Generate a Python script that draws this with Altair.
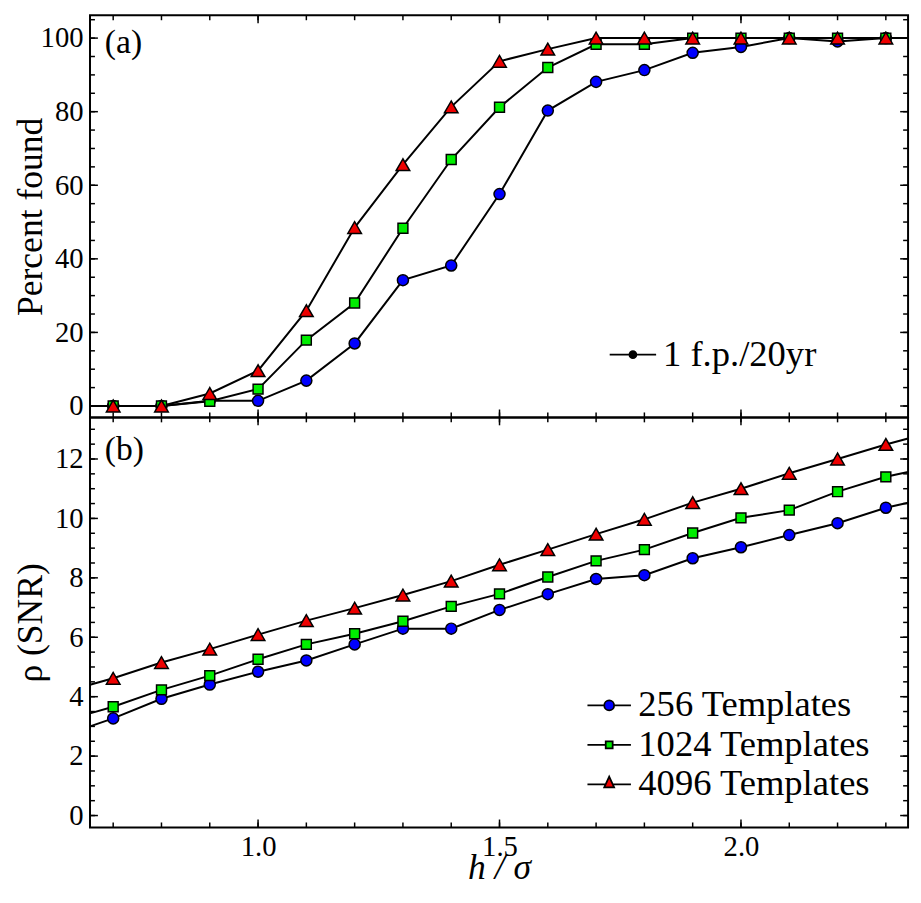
import altair as alt
import pandas as pd

FONT = "Liberation Serif"

# ---------------- data ----------------
h_sigma = [0.7, 0.8, 0.9, 1.0, 1.1, 1.2, 1.3, 1.4, 1.5, 1.6, 1.7, 1.8, 1.9, 2.0, 2.1, 2.2, 2.3]
series = ["256 Templates", "1024 Templates", "4096 Templates"]

pct_256 = [0, 0, 1.4, 1.4, 6.9, 17.0, 34.2, 38.2, 57.6, 80.3, 88.1, 91.3, 96.0, 97.6, 100, 99.1, 100]
pct_1024 = [0, 0, 1.3, 4.6, 17.9, 28.0, 48.3, 67.0, 81.2, 92.0, 98.3, 98.3, 100, 100, 100, 100, 100]
pct_4096 = [0, 0, 3.4, 9.6, 25.9, 48.5, 65.6, 81.3, 93.7, 97.0, 100, 100, 100, 100, 100, 100, 100]

snr_256 = [3.27, 3.93, 4.41, 4.84, 5.22, 5.76, 6.29, 6.29, 6.92, 7.45, 7.96, 8.09, 8.66, 9.03, 9.44, 9.84, 10.36]
snr_1024 = [3.66, 4.23, 4.71, 5.26, 5.76, 6.12, 6.54, 7.04, 7.46, 8.03, 8.57, 8.95, 9.51, 10.02, 10.28, 10.90, 11.40]
snr_4096 = [4.62, 5.15, 5.60, 6.09, 6.56, 6.98, 7.42, 7.89, 8.44, 8.95, 9.47, 9.97, 10.53, 11.00, 11.52, 12.00, 12.49]

# where the connecting lines meet the frame (left edge, right edge)
x_edges = [0.652, 2.346]
pct_edges = [[0, 100], [0, 100], [0, 100]]
snr_edges = [[3.00, 10.53], [3.44, 11.56], [4.40, 12.69]]

# axis ticks
x_labels = [1.0, 1.5, 2.0]
x_minor = [round(0.7 + 0.1 * i, 1) for i in range(17)]
top_labels = [0, 20, 40, 60, 80, 100]
top_minor = [5 * i for i in range(22)]
bot_labels = [0, 2, 4, 6, 8, 10, 12]
bot_minor = [0.5 * i for i in range(27)]

fp_label = ["1 f.p./20yr"]

# ---------------- styling ----------------
colors = ["#0000ff", "#00ee00", "#ee0000"]
shapes = ["circle", "square", "triangle-up"]
sizes = [125, 100, 190]
legend_paths = [
    "M-4.4,0L-1,0M1,0L4.4,0M1,0A1,1,0,1,1,-1,0A1,1,0,1,1,1,0Z",
    "M-4.4,0L-0.7,0M0.7,0L4.4,0M-0.7,-0.7L0.7,-0.7L0.7,0.7L-0.7,0.7Z",
    "M-4.4,0L-0.73,0M0.73,0L4.4,0M0,-1.6L1,0.6L-1,0.6Z",
]
fp_path = "M-4.7,0L4.7,0M0.7,0A0.7,0.7,0,1,1,-0.7,0A0.7,0.7,0,1,1,0.7,0Z"

W = 828
H_TOP = 407
H_BOT = 415
x_domain = [0.652, 2.346]
top_domain = [-3.1, 106.2]
bot_domain = [-0.4, 13.4]


def frames(vals_list, edges_list):
    pts, lines = [], []
    for s, vals, edges in zip(series, vals_list, edges_list):
        for x, y in zip(h_sigma, vals):
            pts.append({"series": s, "x": x, "y": y})
        xs = [x_edges[0]] + h_sigma + [x_edges[1]]
        ys = [edges[0]] + vals + [edges[1]]
        for x, y in zip(xs, ys):
            lines.append({"series": s, "x": x, "y": y})
    return pd.DataFrame(pts), pd.DataFrame(lines)


def panel(vals_list, edges_list, ydomain, ylabels, yminor, H, xaxis, ytitle, tag, tag_y,
          legend_layer_fn):
    pts, lines = frames(vals_list, edges_list)
    xs = alt.Scale(domain=x_domain, nice=False, zero=False)
    ys = alt.Scale(domain=ydomain, nice=False, zero=False)
    yaxis = alt.Axis(values=ylabels, title=ytitle, ticks=False, domain=False, grid=False,
                     labelPadding=7, titleX=-49, titleBaseline="alphabetic")
    X = alt.X("x:Q", scale=xs, axis=xaxis)
    Y = alt.Y("y:Q", scale=ys, axis=yaxis)

    layers = [
        alt.Chart(lines).mark_line(color="black", strokeWidth=2).encode(
            x=X, y=Y, detail="series:N", order="x:Q")
    ]
    for s, c, sh, sz in zip(series, colors, shapes, sizes):
        layers.append(
            alt.Chart(pts).transform_filter(alt.datum.series == s).mark_point(
                shape=sh, size=sz, filled=True, fill=c, stroke="black",
                strokeWidth=1.5, opacity=1).encode(x=X, y=Y))

    xt = pd.DataFrame({"x": x_minor})
    xm = pd.DataFrame({"x": x_labels})
    yt = pd.DataFrame({"y": yminor})
    ym = pd.DataFrame({"y": ylabels})
    for df, ln in ((xt, 5), (xm, 8)):
        layers.append(alt.Chart(df).mark_rule(color="black", strokeWidth=1.5).encode(
            x=X, y=alt.value(H), y2=alt.value(H - ln)))
        layers.append(alt.Chart(df).mark_rule(color="black", strokeWidth=1.5).encode(
            x=X, y=alt.value(0), y2=alt.value(ln)))
    for df, ln in ((yt, 5), (ym, 8)):
        layers.append(alt.Chart(df).mark_rule(color="black", strokeWidth=1.5).encode(
            y=Y, x=alt.value(0), x2=alt.value(ln)))
        layers.append(alt.Chart(df).mark_rule(color="black", strokeWidth=1.5).encode(
            y=Y, x=alt.value(W), x2=alt.value(W - ln)))

    layers.append(alt.Chart(pd.DataFrame({"t": [tag]})).mark_text(
        font=FONT, fontSize=34, align="left", baseline="middle", color="black").encode(
        text="t:N", x=alt.value(15), y=alt.value(tag_y)))

    layers.append(legend_layer_fn(X, Y))
    return alt.layer(*layers).properties(width=W, height=H)


def top_legend(X, Y):
    df = pd.DataFrame({"lab": fp_label, "x": [1.0], "y": [0.0]})
    return alt.Chart(df).transform_filter("false").mark_point(
        filled=False, fill="black", stroke="black", strokeWidth=1.8, opacity=1).encode(
        x=X, y=Y,
        shape=alt.Shape("lab:N", scale=alt.Scale(domain=fp_label, range=[fp_path]),
                        legend=alt.Legend(orient="none", legendX=531, legendY=325, title=None,
                                          labelFont=FONT, labelFontSize=37, labelColor="black",
                                          labelLimit=0, symbolSize=100, labelOffset=12, padding=0,
                                          symbolStrokeWidth=1.8, symbolOpacity=1)))


def bottom_legend(X, Y):
    df = pd.DataFrame({"series": series, "x": [1.0] * 3, "y": [0.0] * 3})
    leg = dict(orient="none", legendX=507, legendY=273, title=None,
               labelFont=FONT, labelFontSize=37, labelColor="black", labelLimit=0,
               symbolSize=100, labelOffset=11, rowPadding=2, padding=0,
               symbolStrokeWidth=1.8, symbolOpacity=1)
    return alt.Chart(df).transform_filter("false").mark_point(
        filled=False, stroke="black", strokeWidth=1.8, opacity=1).encode(
        x=X, y=Y,
        shape=alt.Shape("series:N", scale=alt.Scale(domain=series, range=legend_paths),
                        legend=alt.Legend(**leg)),
        fill=alt.Fill("series:N", scale=alt.Scale(domain=series, range=colors),
                      legend=alt.Legend(**leg)))


top = panel([pct_256, pct_1024, pct_4096], pct_edges, top_domain, top_labels, top_minor,
            H_TOP, None, "Percent found", "(a)", 28, top_legend)

bot_xaxis = alt.Axis(values=x_labels, format=".1f", title="h / σ", ticks=False, domain=False,
                     grid=False, labelPadding=5, titleY=52, titleBaseline="alphabetic",
                     titleFontStyle="italic")
bottom = panel([snr_256, snr_1024, snr_4096], snr_edges, bot_domain, bot_labels, bot_minor,
               H_BOT, bot_xaxis, "ρ (SNR)", "(b)", 33, bottom_legend)

chart = alt.vconcat(top, bottom, spacing=0, bounds="flush").resolve_scale(
    shape="independent", fill="independent").resolve_legend(
    shape="independent", fill="independent").properties(
    padding={"left": 4, "top": 0, "right": 0, "bottom": 1}).configure_axis(
    labelFont=FONT, titleFont=FONT, labelFontSize=29, titleFontSize=36,
    labelColor="black", titleColor="black", titleFontWeight="normal").configure_view(
    stroke="black", strokeWidth=2)

chart.save("out.html", embed_options={"renderer": "svg", "actions": False})
